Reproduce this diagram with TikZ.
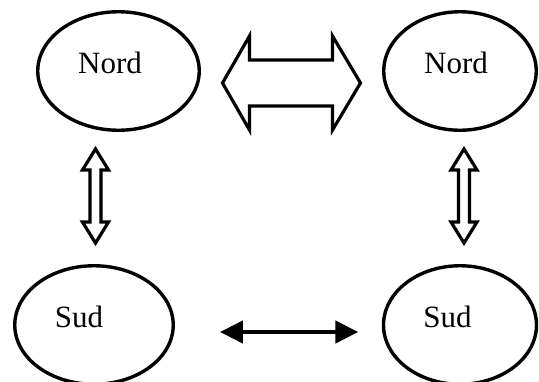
\documentclass[tikz,border=0pt]{standalone}
\usepackage{fontspec}
\setmainfont{Liberation Serif}
\usetikzlibrary{shapes.geometric,arrows.meta,calc}
\begin{document}
\begin{tikzpicture}[x=1pt,y=-1pt,
  oval/.style={draw,ellipse,line width=3.4pt,inner sep=0pt,minimum height=118.5pt},
  txt/.style={anchor=base,inner sep=0pt,font=\fontsize{31}{31}\selectfont},
  hollow/.style={draw,line width=3.2pt,line join=miter,fill=white},
  conn/.style={line width=4.5pt,{Triangle[length=23pt,width=22pt]}-{Triangle[length=23pt,width=22pt]}}]
\useasboundingbox (0,0) rectangle (539,381);
% ellipses
\node[oval,minimum width=161.5pt] (nl) at (118.5,71) {};
\node[oval,minimum width=152.5pt] (nr) at (460,71) {};
\node[oval,minimum width=158.5pt] (sl) at (94,325) {};
\node[oval,minimum width=153pt] (sr) at (460,325) {};
% texts
\node[txt] (tnl) at (110,73) {Nord};
\node[txt] (tnr) at (456,73) {Nord};
\node[txt] (tsl) at (79,327.5) {Sud};
\node[txt] (tsr) at (447.6,327.5) {Sud};
% big hollow double arrow
\coordinate (hm) at ($(nl.east)!0.5!(nr.west)+(0,12)$);
\draw[hollow,shift={(hm)}] (-69,0) -- (-42,-47) -- (-42,-23) -- (41,-23) -- (41,-47)
  -- (69,0) -- (41,47) -- (41,23) -- (-42,23) -- (-42,47) -- cycle;
% vertical hollow double arrows
\coordinate (vl) at (95.5,196);
\coordinate (vr) at (464,196);
\foreach \c in {vl,vr}{
  \draw[hollow,shift={(\c)}] (0,-47) -- (13,-26) -- (5.5,-26) -- (5.5,26) -- (13,26)
    -- (0,47) -- (-13,26) -- (-5.5,26) -- (-5.5,-26) -- (-13,-26) -- cycle;
}
% bottom arrow
\draw[conn] ([xshift=45pt,yshift=-7pt]sl.east) -- ([xshift=-23.5pt,yshift=-7pt]sr.west);
\end{tikzpicture}
\end{document}
